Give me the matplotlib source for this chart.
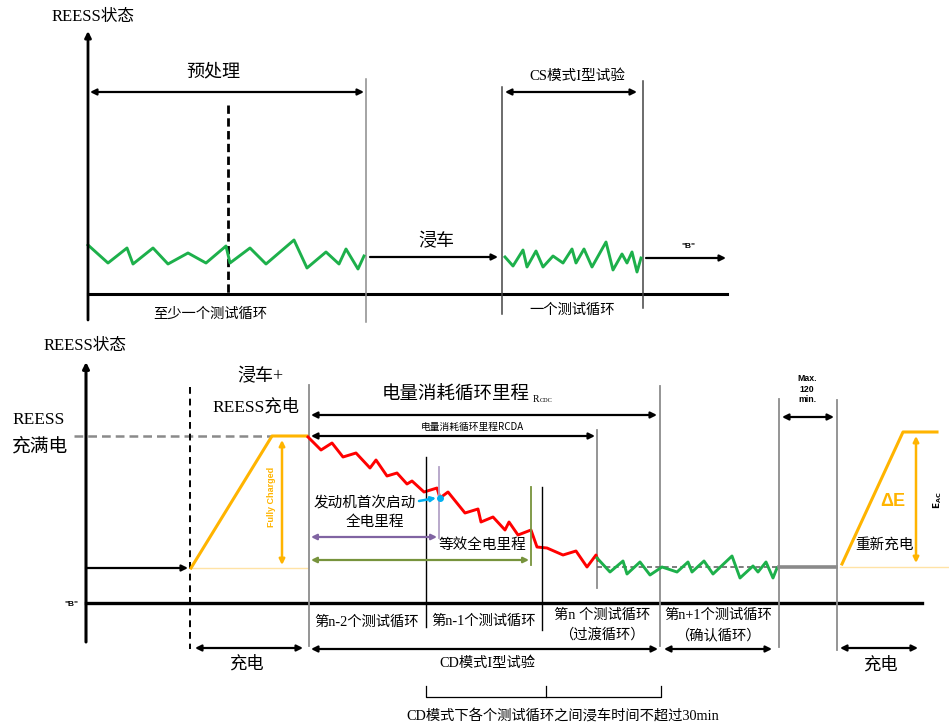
import matplotlib
matplotlib.use('Agg')
import matplotlib.pyplot as plt

CJK = 'Noto Sans CJK SC'
SERIF = ['Liberation Serif', CJK]
SANS = ['Liberation Sans', CJK]
plt.rcParams['font.family'] = [CJK, 'DejaVu Sans']

# ---------------- data (pixel units) ----------------
pre_x = [88, 108, 127, 133, 153, 168, 188, 206, 226, 230, 250, 266, 294, 307, 326, 339, 346, 358, 364]
pre_y = [245, 263, 248, 264, 248, 264, 253, 263, 246, 263, 248, 264, 240, 268, 252, 264, 249, 269, 256]
cs_x = [505, 513, 523, 527, 536, 543, 553, 563, 572, 576, 584, 592, 606, 613, 622, 627, 632, 637, 641]
cs_y = [257, 266, 250, 267, 251, 267, 256, 263, 249, 263, 249, 267, 242, 270, 254, 263, 252, 272, 258]
cd_x = [308, 321, 332, 343, 356, 370, 376, 387, 397, 407, 412, 424, 437, 440, 448, 465, 478, 481, 493,
        505, 509, 518, 531, 537, 547, 563, 576, 587, 596, 598]
cd_y = [437, 450, 443, 457, 453, 468, 460, 476, 473, 484, 481, 492, 488, 498, 492, 513, 509, 522, 517,
        530, 522, 535, 530, 547, 548, 555, 551, 567, 555, 560]
cs2_x = [597, 610, 623, 627, 640, 650, 662, 677, 688, 692, 704, 713, 732, 740, 753, 758, 766, 773, 777]
cs2_y = [558, 572, 561, 574, 562, 575, 567, 572, 562, 572, 561, 574, 556, 578, 566, 572, 562, 578, 568]
charge_x = [191, 272, 308]
charge_y = [568, 436, 436]
recharge_x = [842, 903, 937]
recharge_y = [564, 432, 432]

GREEN = '#1DB04B'
RED = '#FF0000'
ORANGE = '#FFB400'
LORANGE = '#FFE3A6'
GREY = '#8C8C8C'
PURPLE = '#8064A2'
LPURPLE = '#B3A2C7'
OLIVE = '#77933C'
CYAN = '#00B0F0'

fig = plt.figure(figsize=(9.49, 7.27), dpi=100)
ax = fig.add_axes([0, 0, 1, 1])
ax.set_xlim(0, 949)
ax.set_ylim(727, 0)
ax.axis('off')


def arrow(x1, y1, x2, y2, style='<|-|>', color='k', lw=1.6, ms=9):
    ax.annotate('', xy=(x2, y2), xytext=(x1, y1),
                arrowprops=dict(arrowstyle=style, color=color, lw=lw,
                                mutation_scale=ms, shrinkA=0, shrinkB=0))


def vline(x, y1, y2, color=GREY, lw=1.1, ls='-'):
    ax.plot([x, x], [y1, y2], color=color, lw=lw, ls=ls)


def hline(y, x1, x2, color='k', lw=2.2, ls='-'):
    ax.plot([x1, x2], [y, y], color=color, lw=lw, ls=ls)


def txt(x, y, s, size=10, family=None, **kw):
    ax.text(x, y, s, fontsize=size, family=family or [CJK, 'DejaVu Sans'],
            ha=kw.pop('ha', 'center'), va=kw.pop('va', 'center'), **kw)

# ======================= top chart =======================
arrow(88, 320, 88, 31, style='-|>', lw=2.0, ms=9)
txt(93, 17, 'REESS状态', 12, SERIF)
hline(293.5, 88, 727)
vline(366, 79, 322)
vline(502, 87, 314, color='#444444')
vline(643, 81, 308, color='#444444')
vline(228, 105, 293, color='k', lw=2.0, ls=(0, (3, 1.6)))
arrow(90, 92, 364, 92)
txt(213, 71, '预处理', 13)
ax.plot(pre_x, pre_y, color=GREEN, lw=2.1)
arrow(370, 257, 498, 257, style='-|>')
txt(436, 241, '浸车', 13)
ax.plot(cs_x, cs_y, color=GREEN, lw=2.1)
arrow(505, 92, 637, 92)
txt(577, 76, 'CS模式I型试验', 10.5, SERIF)
arrow(646, 258, 726, 258, style='-|>')
txt(688, 246, '"B"', 6, SANS, weight='bold')
txt(210, 314, '至少一个测试循环', 10.3)
txt(572, 310, '一个测试循环', 10.3)

# ======================= bottom chart =======================
arrow(86, 642, 86, 362, style='-|>', lw=2.2, ms=9)
txt(85, 346, 'REESS状态', 12, SERIF)
hline(603, 86, 922, lw=2.4)
txt(71, 604, '"B"', 6, SANS, weight='bold')
txt(12, 420, 'REESS', 12.5, SERIF, ha='left')
txt(12, 446, '充满电', 13.5, ha='left')
hline(436, 74, 272, color='#8A8A8A', lw=1.8, ls=(0, (3.5, 2)))
arrow(86, 568, 188, 568, style='-|>')
vline(190, 387, 649, color='k', lw=1.4, ls=(0, (3.5, 2.5)))
hline(568, 191, 308, color=LORANGE, lw=1.0)
ax.plot(charge_x, charge_y, color=ORANGE, lw=2.2)
arrow(282, 440, 282, 565, color=ORANGE, lw=1.8, ms=8)
txt(272, 497, 'Fully Charged', 6.5, SANS, color=ORANGE, rotation=90, weight='bold')
txt(260, 377, '浸车+', 13, SERIF)
txt(256, 407, 'REESS充电', 12.5, SERIF)
vline(309, 385, 646, lw=1.3)
arrow(195, 648, 303, 648)
txt(246, 664, '充电', 12.5)

# energy consumption arrows
txt(456, 395, '电量消耗循环里程', 13.3)
txt(533, 400, 'R', 7, SERIF, ha='left')
txt(540, 401, 'CDC', 4.5, SERIF, ha='left')
arrow(311, 415, 657, 415)
vline(660, 386, 646, lw=1.3)
txt(472, 427, '电量消耗循环里程RCDA', 7)
arrow(311, 436, 595, 436)
vline(597, 430, 588, lw=1.3)

ax.plot(cd_x, cd_y, color=RED, lw=2.1)
hline(567, 597, 778, color='#666666', lw=1.2, ls=(0, (3, 2)))
ax.plot(cs2_x, cs2_y, color=GREEN, lw=2.1)
hline(567, 779, 836, color='#8A8A8A', lw=2.6)

vline(426, 457, 627, color='k', lw=1.0)
vline(439, 467, 538, color=LPURPLE, lw=1.3)
vline(531.5, 487, 565, color=OLIVE, lw=1.3)
vline(542.5, 487, 630, color='k', lw=1.0)
arrow(311, 537, 437, 537, color=PURPLE, lw=1.6, ms=8)
arrow(311, 560, 529, 560, color=OLIVE, lw=1.6, ms=8)
txt(365, 503, '发动机首次启动', 10.5)
txt(375, 522, '全电里程', 10.5)
arrow(419, 501, 436, 498, style='-|>', color=CYAN, lw=1.8, ms=7)
ax.plot([440], [498], 'o', color=CYAN, ms=4)
txt(482, 545, '等效全电里程', 10.5)

# cycle labels
txt(367, 622, '第n-2个测试循环', 10.3, SERIF)
txt(484, 621, '第n-1个测试循环', 10.3, SERIF)
txt(602, 615, '第n 个测试循环', 10.3, SERIF)
txt(602, 635, '（过渡循环）', 10.3, SERIF)
txt(718, 615, '第n+1个测试循环', 10.3, SERIF)
txt(718, 635, '（确认循环）', 10.3, SERIF)
arrow(311, 649, 658, 649)
arrow(664, 649, 772, 649)
txt(487, 663, 'CD模式I型试验', 10.3, SERIF)

# bracket
ax.plot([426, 426, 661, 661], [686, 697, 697, 686], color='k', lw=0.9)
vline(546, 686, 697, color='k', lw=0.9)
txt(563, 716, 'CD模式下各个测试循环之间浸车时间不超过30min', 10.3, SERIF)

# right part
vline(779, 399, 647, lw=1.3)
vline(837, 400, 650, lw=1.3)
txt(807, 389, 'Max.\n120\nmin.', 6.3, SANS, weight='bold', linespacing=1.2)
arrow(782, 417, 834, 417)
hline(567, 840, 949, color=LORANGE, lw=1.0)
ax.plot(recharge_x, recharge_y, color=ORANGE, lw=2.2)
arrow(916, 436, 916, 563, color=ORANGE, lw=1.8, ms=8)
txt(893, 502, 'ΔE', 13, SANS, color=ORANGE, weight='bold')
ax.text(938, 500, r'$\mathbf{E_{AC}}$', fontsize=6.5, rotation=90, ha='center', va='center')
txt(885, 545, '重新充电', 10.5)
arrow(840, 648, 918, 648)
txt(880, 665, '充电', 12.5)

fig.savefig('out.png', dpi=100)
